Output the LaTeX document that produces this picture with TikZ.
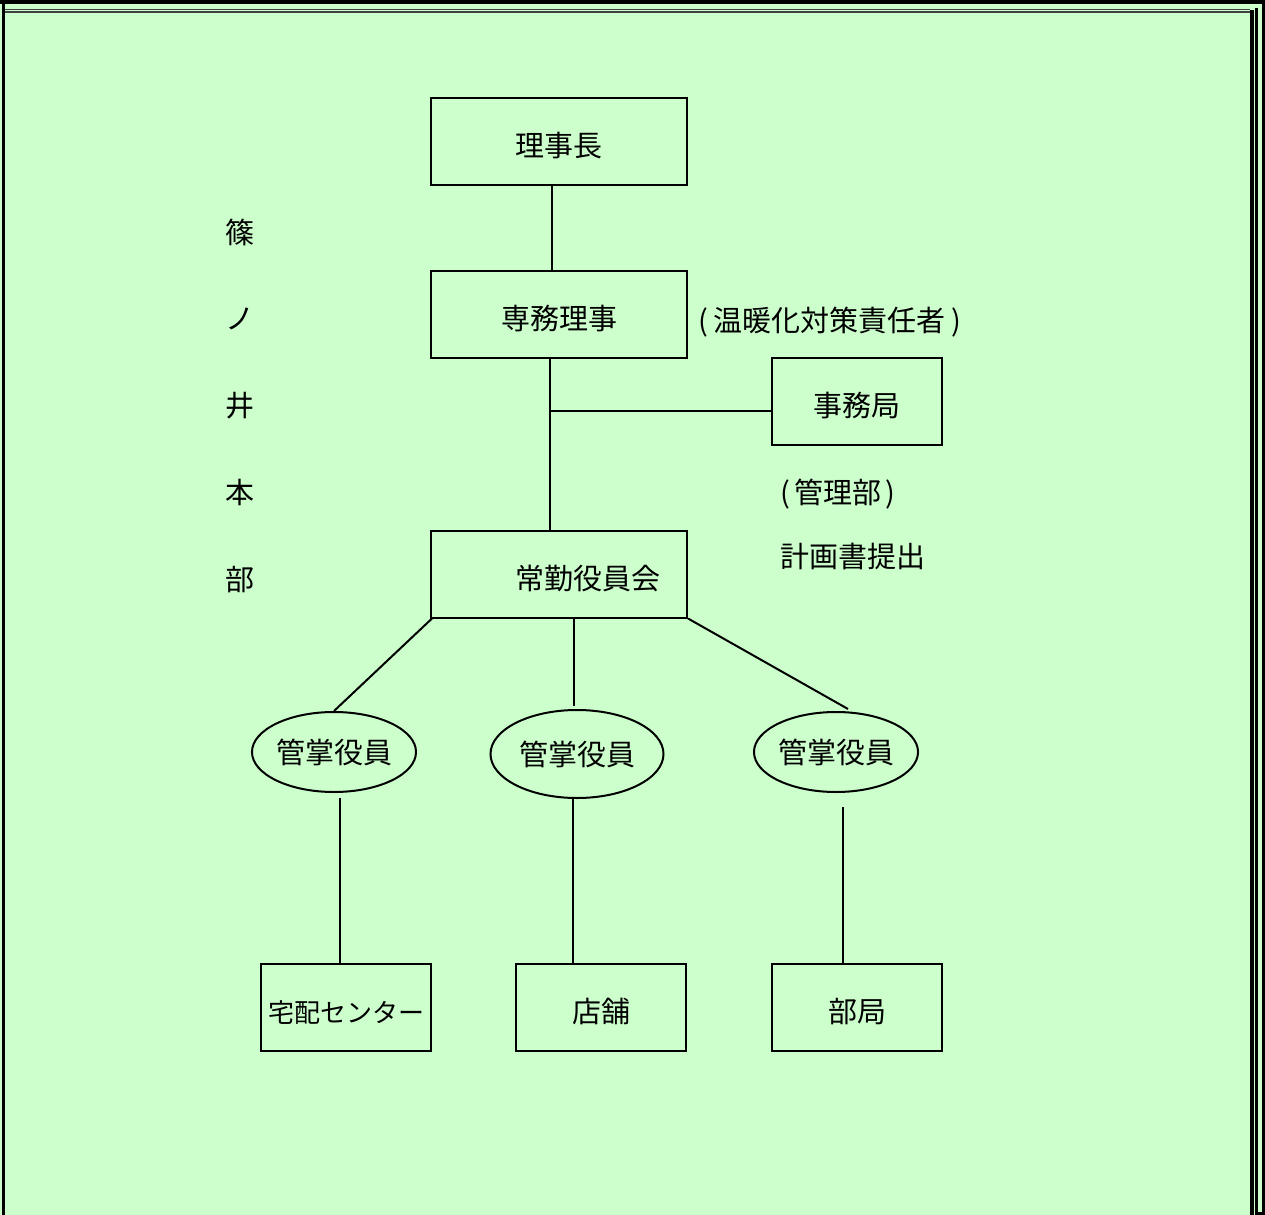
\documentclass[tikz,border=0pt]{standalone}
\usepackage{fontspec}
\newfontfamily\jp{Noto Sans CJK JP}
\usetikzlibrary{positioning,shapes.geometric}
\definecolor{bggreen}{RGB}{204,255,204}
\newcommand{\jpfont}{\jp\fontsize{14.5}{16}\selectfont}

\begin{document}
\begin{tikzpicture}[x=0.5pt,y=-0.5pt,
  box/.style={draw,line width=1pt,minimum width=128pt,minimum height=43.5pt,inner sep=0pt,
    text height=16.5pt,text depth=1.5pt,font=\jpfont},
  smallbox/.style={box,minimum width=85pt},
  oval/.style={draw,ellipse,line width=1pt,minimum width=80pt,minimum height=40pt,inner sep=0pt,font=\jpfont},
  txt/.style={inner sep=0pt,font=\jpfont},
  link/.style={line width=1pt}]
\useasboundingbox (0,0) rectangle (1265,1215);
% frame
\fill[bggreen] (0,0) rectangle (1265,1215);
\fill[black] (0,0) rectangle (1265,3.7);
\fill[black] (2,0) rectangle (5,1215);
\draw[black!75,line width=0.6pt] (5,9.5) -- (1250,9.5);
\draw[black!75,line width=0.6pt] (5,12) -- (1250,12);
\fill[black] (1250,10) rectangle (1253.5,1215);
\draw[line width=1.2pt] (1256.5,8) -- (1256.5,1213.5) -- (1263.5,1213.5) -- (1263.5,0);
% left label
\foreach \ch [count=\i from 0] in {篠,ノ,井,本,部}
  \node[txt] (side\i) at (240,232+86.8*\i) {\ch};
% boxes
\node[box] (richo) at (559,141) {理事長};
\node[box] (senmu) at (559,314.5) {専務理事};
\node[txt] (ondanka) at (830,322) {(\hspace{3pt}温暖化対策責任者\hspace{3pt})};
\node[smallbox] (jimu) at (857,401) {事務局};
\node[txt] (kanribu) at (838,494) {(\hspace{2pt}管理部\hspace{2pt})};
\node[txt] (keikaku) at (853,556) {計画書提出};
\node[box] (jokin) at (559,574) {\hspace*{29pt}常勤役員会};
\node[oval] (kan1) at (334,752) {管掌役員};
\node[oval,minimum width=86.5pt,minimum height=44pt] (kan2) at (577,754) {管掌役員};
\node[oval] (kan3) at (836,752) {管掌役員};
\node[smallbox,font=\jp\fontsize{13}{15}\selectfont] (takuhai) at (346,1007) {宅配センター};
\node[smallbox] (tenpo) at (601,1007) {店舗};
\node[smallbox] (bukyoku) at (857,1007) {部局};
% connectors
\draw[link] ([xshift=-3.5pt]richo.south) -- ([xshift=-3.5pt]senmu.north);
\draw[link] ([xshift=-4.5pt]senmu.south) -- ([xshift=-4.5pt]jokin.north);
\coordinate (branch) at (550,411);
\draw[link] (branch) -- (branch -| jimu.west);
\draw[link] ([xshift=1pt]jokin.south west) -- (kan1.north);
\draw[link] ([xshift=7.5pt]jokin.south) -- ([xshift=-1.5pt,yshift=1.5pt]kan2.north);
\draw[link] (jokin.south east) -- ([xshift=6pt,yshift=1pt]kan3.north);
\draw[link] ([xshift=3pt,yshift=-2.5pt]kan1.south) -- ([xshift=-3pt]takuhai.north);
\draw[link] ([xshift=-2pt]kan2.south) -- ([xshift=-14pt]tenpo.north);
\draw[link] ([xshift=3.5pt,yshift=-7pt]kan3.south) -- ([xshift=-7pt]bukyoku.north);
\end{tikzpicture}
\end{document}
